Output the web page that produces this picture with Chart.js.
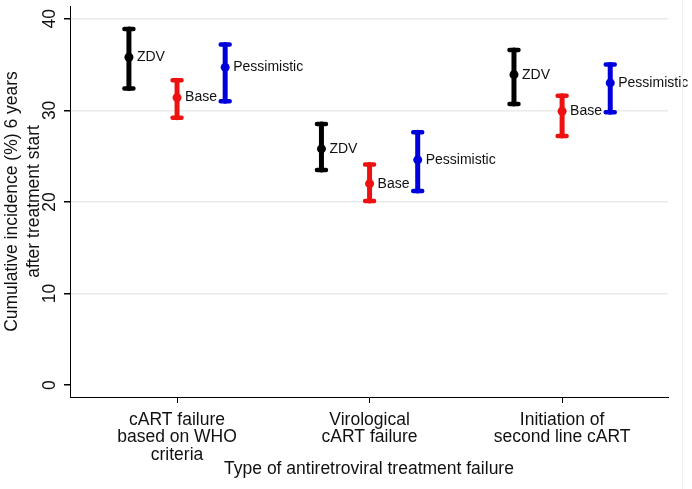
<!DOCTYPE html>
<html>
<head>
<meta charset="utf-8">
<script src="https://cdn.jsdelivr.net/npm/chart.js@4/dist/chart.umd.min.js"></script>
<style>
  html, body { margin: 0; padding: 0; background: #fff; }
  #wrap { position: relative; width: 692px; height: 489px; }
  #edge { position: absolute; left: 682px; top: 0; width: 1px; height: 489px; background: #f1f1f1; }
</style>
</head>
<body>
<div id="wrap">
  <canvas id="chart"></canvas>
  <div id="edge"></div>
</div>
<script>
// Categories on the x axis (multi-line labels)
const categories = [
    ['cART failure', 'based on WHO', 'criteria'],
    ['Virological', 'cART failure'],
    ['Initiation of', 'second line cART']
];
const yTicks = [0, 10, 20, 30, 40];

// Estimates and 95% intervals for each scenario
const zdvEst = [35.8, 25.8, 33.9];
const zdvLow = [32.4, 23.5, 30.7];
const zdvHigh = [38.9, 28.5, 36.6];

const baseEst = [31.4, 22.0, 29.9];
const baseLow = [29.2, 20.1, 27.2];
const baseHigh = [33.3, 24.1, 31.6];

const pessEst = [34.7, 24.6, 33.0];
const pessLow = [31.0, 21.2, 29.8];
const pessHigh = [37.2, 27.6, 35.0];

const FONT = '"Liberation Sans", Arial, sans-serif';

// Build scatter points, shifted a bit left/right within each category
function buildPoints(est, low, high, shift) {
    return est.map((v, i) => ({ x: i + 1 + shift, y: v, lo: low[i], hi: high[i] }));
}

// Draw the whiskers and caps behind the mean markers, then the text labels
const errorBars = {
    id: 'errorBars',
    beforeDatasetsDraw(chart) {
        const ctx = chart.ctx;
        const xs = chart.scales.x;
        const ys = chart.scales.y;
        chart.data.datasets.forEach(ds => {
            ds.data.forEach(pt => {
                const px = xs.getPixelForValue(pt.x);
                const top = ys.getPixelForValue(pt.hi);
                const bot = ys.getPixelForValue(pt.lo);
                ctx.save();
                ctx.strokeStyle = ds.backgroundColor;
                ctx.lineCap = 'round';
                ctx.lineWidth = 5;
                ctx.beginPath();
                ctx.moveTo(px, top);
                ctx.lineTo(px, bot);
                ctx.stroke();
                ctx.lineWidth = 4.5;
                ctx.beginPath();
                ctx.moveTo(px - 4.5, top);
                ctx.lineTo(px + 4.5, top);
                ctx.moveTo(px - 4.5, bot);
                ctx.lineTo(px + 4.5, bot);
                ctx.stroke();
                ctx.restore();
            });
        });
    },
    afterDatasetsDraw(chart) {
        const ctx = chart.ctx;
        const xs = chart.scales.x;
        const ys = chart.scales.y;
        ctx.save();
        ctx.font = '14px ' + FONT;
        ctx.fillStyle = '#111';
        ctx.textBaseline = 'middle';
        ctx.textAlign = 'left';
        chart.data.datasets.forEach(ds => {
            ds.data.forEach(pt => {
                ctx.fillText(ds.label, xs.getPixelForValue(pt.x) + 8, ys.getPixelForValue(pt.y));
            });
        });
        ctx.restore();
    }
};

window.onload = function() {
    const ctx = document.getElementById('chart').getContext('2d');
    new Chart(ctx, {
        type: 'scatter',
        data: {
            datasets: [
                { label: 'ZDV', data: buildPoints(zdvEst, zdvLow, zdvHigh, -0.25), backgroundColor: '#000000' },
                { label: 'Base', data: buildPoints(baseEst, baseLow, baseHigh, 0), backgroundColor: '#ee1111' },
                { label: 'Pessimistic', data: buildPoints(pessEst, pessLow, pessHigh, 0.25), backgroundColor: '#0000dd' }
            ]
        },
        options: {
            responsive: true,
            maintainAspectRatio: false,
            animation: false,
            layout: { padding: { top: 6, right: 24, left: 0, bottom: 0 } },
            elements: { point: { radius: 4.5, borderWidth: 0, hoverRadius: 4.5 } },
            plugins: { legend: { display: false }, tooltip: { enabled: false } },
            scales: {
                x: {
                    type: 'linear',
                    min: 0.444,
                    max: 3.55,
                    afterBuildTicks: scale => { scale.ticks = categories.map((c, i) => ({ value: i + 1 })); },
                    afterFit: scale => {
                        scale.height = 92;
                        scale.paddingLeft = 0;
                        scale.paddingRight = 0;
                    },
                    border: { display: true, color: '#000', width: 1 },
                    grid: { display: true, drawOnChartArea: false, drawTicks: true, tickLength: 6, tickColor: '#000' },
                    ticks: {
                        padding: 8,
                        color: '#111',
                        maxRotation: 0,
                        font: { family: FONT, size: 17.5, lineHeight: 1.0 },
                        callback: v => categories[Math.round(v) - 1]
                    },
                    title: {
                        display: true,
                        text: 'Type of antiretroviral treatment failure',
                        color: '#111',
                        font: { family: FONT, size: 17.5, lineHeight: 1.2 },
                        padding: { top: 0, bottom: 9 }
                    }
                },
                y: {
                    min: -1.3,
                    max: 41.4,
                    afterBuildTicks: scale => { scale.ticks = yTicks.map(v => ({ value: v })); },
                    afterFit: scale => {
                        scale.width = 70;
                        scale.paddingTop = 0;
                        scale.paddingBottom = 0;
                    },
                    border: { display: true, color: '#000', width: 1 },
                    grid: {
                        color: c => (c.tick && c.tick.value === 0 ? 'rgba(0,0,0,0)' : '#e8ebec'),
                        lineWidth: 1.5,
                        tickLength: 6,
                        tickColor: '#000'
                    },
                    ticks: {
                        minRotation: 90,
                        maxRotation: 90,
                        crossAlign: 'center',
                        padding: 4,
                        color: '#111',
                        font: { family: FONT, size: 17.5 }
                    },
                    title: {
                        display: true,
                        text: ['Cumulative incidence (%) 6 years', 'after treatment start'],
                        color: '#111',
                        font: { family: FONT, size: 17.5, lineHeight: 1.3 },
                        padding: { top: 0.5, bottom: 0 }
                    }
                }
            }
        },
        plugins: [errorBars]
    });
};
</script>
</body>
</html>
